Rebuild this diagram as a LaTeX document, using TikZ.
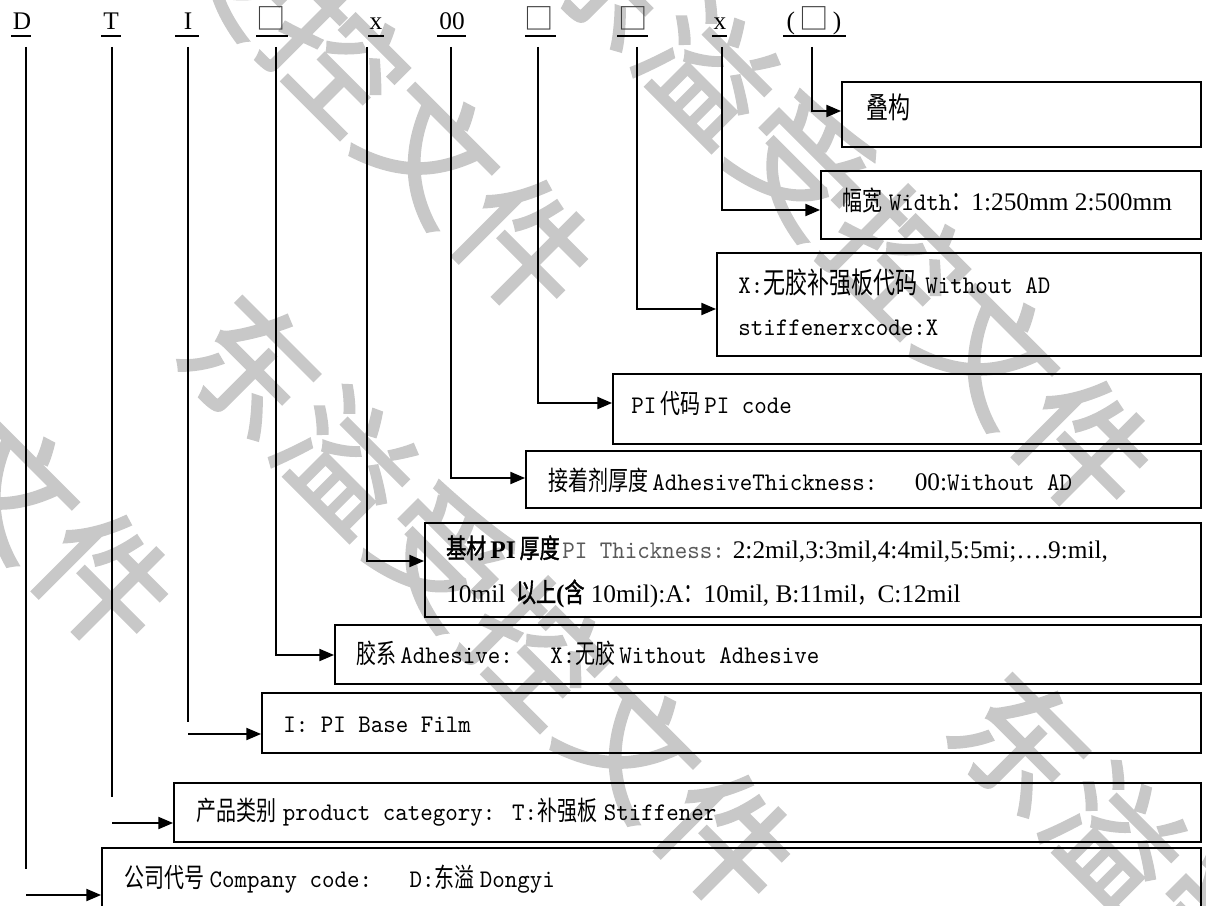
\documentclass[tikz,border=0pt]{standalone}
\usepackage{fontspec}
\usetikzlibrary{arrows.meta,fit}
\setmainfont{Liberation Serif}
\newfontfamily\cjk[FakeStretch=0.75]{Noto Sans CJK SC}
\newfontfamily\cjkbold[FakeStretch=0.75,FakeBold=1.5]{Noto Sans CJK SC}
\newfontfamily\cjkbox{Noto Sans CJK SC}
\newfontfamily\cjkwm[FakeBold=2]{Noto Sans CJK SC}
\newfontfamily\mono[FakeStretch=0.94]{lmmono10-regular.otf}
\newcommand\zc[1]{{\cjk\fontsize{20pt}{22pt}\selectfont #1}}
\newcommand\zcw[1]{{\cjk\fontsize{22pt}{22pt}\selectfont #1}}
\newcommand\zcb[1]{{\cjkbold\fontsize{20pt}{22pt}\selectfont #1}}
\newcommand\zm[1]{{\mono\fontsize{19pt}{22pt}\selectfont #1}}
\newcommand\zs[1]{{\rmfamily\fontsize{19pt}{22pt}\selectfont #1}}
\newcommand\zsb[1]{{\rmfamily\bfseries\fontsize{19pt}{22pt}\selectfont #1}}
\newcommand\sq{{\cjkbox\color{black!75}\fontsize{22pt}{22pt}\selectfont □}}
\definecolor{wmgray}{RGB}{200,200,200}
\tikzset{
  hdr/.style={anchor=base, inner sep=0pt, font=\rmfamily\fontsize{19pt}{22pt}\selectfont},
  uline/.style={line width=1.5pt},
  conn/.style={line width=1.4pt},
  arr/.style={line width=1.4pt, -{Triangle[length=11pt,width=9pt]}},
  box/.style={draw, line width=1.4pt, inner sep=0pt},
  txt/.style={anchor=base west, inner sep=0pt},
  wm/.style={inner sep=0pt, rotate=-45, text=wmgray, font=\cjkwm\fontsize{98pt}{98pt}\selectfont}
}
\begin{document}
\begin{tikzpicture}[x=0.75pt,y=-0.75pt]
\useasboundingbox (0,0) rectangle (1206,906);
\fill[white] (0,0) rectangle (1206,906);

% watermark (behind everything)
\foreach \ch [count=\i from 0] in {东,溢,受,控,文,件} {
  \node[wm] (wa\i) at ({252+95*\i},{365+95*\i}) {\ch};
  \node[wm] (wb\i) at ({55+94*\i},{-225+94*\i}) {\ch};
  \node[wm] (wc\i) at ({1022+94*\i},{742+94*\i}) {\ch};
  \node[wm] (wd\i) at ({-365+94*\i},{110+94*\i}) {\ch};
  \node[wm] (we\i) at ({615+94*\i},{-24+94*\i}) {\ch};
}

% header labels
\node[hdr] (hD)  at (22,30)  {D};
\node[hdr] (hT)  at (111,30) {T};
\node[hdr] (hI)  at (188,30) {I};
\node[hdr] (hB1) at (271,30) {\sq};
\node[hdr] (hX1) at (376,30) {x};
\node[hdr] (h00) at (452,30) {00};
\node[hdr] (hB2) at (539,30) {\sq};
\node[hdr] (hB3) at (633,30) {\sq};
\node[hdr] (hX2) at (720,30) {x};
\node[hdr] (hP)  at (814,30) {(\,\sq\,)};
\draw[uline] (11,36) -- (31,36);
\draw[uline] (101,36) -- (121,36);
\draw[uline] (175,36) -- (199,36);
\draw[uline] (256,36) -- (288,36);
\draw[uline] (368,36) -- (384,36);
\draw[uline] (437,36) -- (466,36);
\draw[uline] (525,36) -- (556,36);
\draw[uline] (617,36) -- (648,36);
\draw[uline] (712,36) -- (727,36);
\draw[uline] (783,36) -- (846,36);

% boxes
\node[box, fit={(842,82) (1201,147)}]  (b1) {};
\node[box, fit={(821,171) (1201,239)}] (b2) {};
\node[box, fit={(717,253) (1201,356)}] (b3) {};
\node[box, fit={(613,374) (1201,444)}] (b4) {};
\node[box, fit={(526,451) (1201,508)}] (b5) {};
\node[box, fit={(425,523) (1201,617)}] (b6) {};
\node[box, fit={(335,625) (1201,684)}] (b7) {};
\node[box, fit={(262,693) (1201,753)}] (b8) {};
\node[box, fit={(174,783) (1201,842)}] (b9) {};
\node[box, fit={(102,848) (1201,930)}] (b10) {};

% texts
\node[txt] (x1) at (866,118) {\zcw{叠构}};
\node[txt] (x2) at (842,210) {\zc{幅宽}\hspace{5pt}\zm{Width}\zc{：}\zs{1:250mm 2:500mm}};
\node[txt] (x3a) at (738,293) {\zm{X:}\zcw{无胶补强板代码}\hspace{6pt}\zm{Without AD}};
\node[txt] (x3b) at (738,335) {\zm{stiffenerxcode:X}};
\node[txt] (x4) at (631,413) {\zm{PI}\hspace{3pt}\zc{代码}\hspace{3pt}\zm{PI code}};
\node[txt] (x5) at (548,490) {\zc{接着剂厚度}\hspace{3pt}\zm{AdhesiveThickness:\ \ \ }\zs{00:}\zm{Without AD}};
\node[txt] (x6a) at (446,558) {\zcb{基材}\hspace{3pt}\zsb{PI}\hspace{3pt}\zcb{厚度}\hspace{2pt}{\color{black!65}\zm{PI Thickness:}}\hspace{6pt}\zs{2:2mil,3:3mil,4:4mil,5:5mi;….9:mil,}};
\node[txt] (x6b) at (446,602) {\zs{10mil}\hspace{8pt}\zcb{以上}\zsb{(}\zcb{含}\zs{\ 10mil):A}\zc{：}\zs{10mil, B:11mil}\zc{，}\zs{C:12mil}};
\node[txt] (x7) at (356,663) {\zc{胶系}\hspace{3pt}\zm{Adhesive:\ \ \ X:}\zc{无胶}\hspace{3pt}\zm{Without Adhesive}};
\node[txt] (x8) at (283,732) {\zm{I: PI Base Film}};
\node[txt] (x9) at (196,820) {\zc{产品类别}\hspace{5pt}\zm{product category: T:}\zc{补强板}\hspace{5pt}\zm{Stiffener}};
\node[txt] (x10) at (124,887) {\zc{公司代号}\hspace{4pt}\zm{Company code:\ \ \ D:}\zc{东溢}\hspace{4pt}\zm{Dongyi}};

% connector coordinates
\coordinate (t1) at (812,47);  \coordinate (k1) at (812,111);
\coordinate (t2) at (722,47);  \coordinate (k2) at (722,210);
\coordinate (t3) at (637,47);  \coordinate (k3) at (637,309);
\coordinate (t4) at (538,47);  \coordinate (k4) at (538,403);
\coordinate (t5) at (451,47);  \coordinate (k5) at (451,478);
\coordinate (t6) at (367,47);  \coordinate (k6) at (367,561);
\coordinate (t7) at (276,47);  \coordinate (k7) at (276,655);
\coordinate (t8) at (188,47);  \coordinate (e8) at (188,722); \coordinate (k8) at (188,734);
\coordinate (t9) at (112,47);  \coordinate (e9) at (112,797); \coordinate (k9) at (112,823);
\coordinate (t10) at (26,47);  \coordinate (e10) at (26,869); \coordinate (k10) at (26,895);

\draw[arr] (t1) -- (k1) -- (k1 -| b1.west);
\draw[arr] (t2) -- (k2) -- (k2 -| b2.west);
\draw[arr] (t3) -- (k3) -- (k3 -| b3.west);
\draw[arr] (t4) -- (k4) -- (k4 -| b4.west);
\draw[arr] (t5) -- (k5) -- (k5 -| b5.west);
\draw[arr] (t6) -- (k6) -- (k6 -| b6.west);
\draw[arr] (t7) -- (k7) -- (k7 -| b7.west);
\draw[conn] (t8) -- (e8);
\draw[arr] (k8) -- (k8 -| b8.west);
\draw[conn] (t9) -- (e9);
\draw[arr] (k9) -- (k9 -| b9.west);
\draw[conn] (t10) -- (e10);
\draw[arr] (k10) -- (k10 -| b10.west);
\end{tikzpicture}
\end{document}
